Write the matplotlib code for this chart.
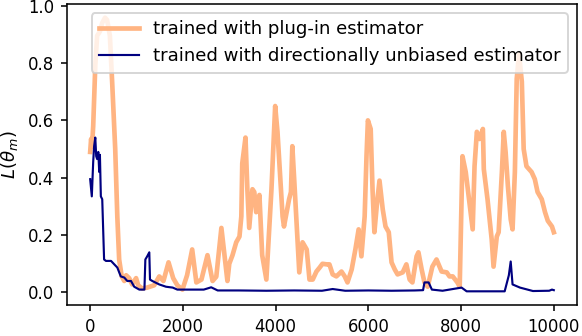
import numpy as np
import matplotlib
matplotlib.use('Agg')
import matplotlib.pyplot as plt

# loss curve, plug-in estimator
steps_plugin = [0, 20, 40, 65, 110, 150, 210, 260, 320, 365, 425, 475, 540, 585, 625,
                680, 735, 775, 840, 905, 990, 1035, 1120, 1230, 1380, 1490, 1580, 1690,
                1790, 1880, 1990, 2090, 2200, 2290, 2400, 2530, 2640, 2720, 2830, 2960,
                3000, 3070, 3150, 3220, 3260, 3280, 3350, 3390, 3430, 3500, 3540, 3580,
                3650, 3710, 3800, 3910, 3990, 4040, 4150, 4180, 4290, 4330, 4360, 4400,
                4470, 4510, 4580, 4670, 4730, 4800, 4880, 4950, 5010, 5100, 5160, 5230,
                5310, 5420, 5490, 5550, 5640, 5720, 5790, 5850, 5920, 5960, 5990, 6050,
                6090, 6130, 6180, 6240, 6310, 6370, 6440, 6500, 6570, 6630, 6740, 6820,
                6890, 6950, 7040, 7080, 7150, 7210, 7280, 7380, 7470, 7580, 7690, 7750,
                7820, 7920, 7970, 8030, 8100, 8190, 8250, 8290, 8340, 8400, 8470, 8490,
                8570, 8660, 8700, 8770, 8810, 8880, 8920, 8960, 9010, 9070, 9110, 9160,
                9200, 9250, 9310, 9350, 9410, 9520, 9590, 9650, 9740, 9810, 9870, 9960,
                10000]
loss_plugin = [0.49, 0.535, 0.51, 0.58, 0.79, 0.895, 0.91, 0.94, 0.958, 0.95, 0.895, 0.73,
               0.50, 0.265, 0.115, 0.056, 0.04, 0.06, 0.05, 0.028, 0.05, 0.025, 0.014,
               0.017, 0.025, 0.056, 0.04, 0.105, 0.05, 0.025, 0.01, 0.06, 0.15, 0.035,
               0.045, 0.13, 0.04, 0.055, 0.225, 0.04, 0.10, 0.13, 0.175, 0.195, 0.265,
               0.45, 0.54, 0.36, 0.225, 0.36, 0.35, 0.28, 0.34, 0.13, 0.045, 0.36, 0.65,
               0.56, 0.265, 0.23, 0.325, 0.35, 0.51, 0.395, 0.185, 0.07, 0.175, 0.15,
               0.045, 0.045, 0.073, 0.087, 0.10, 0.098, 0.098, 0.063, 0.056, 0.073, 0.056,
               0.035, 0.08, 0.15, 0.22, 0.126, 0.265, 0.475, 0.60, 0.57, 0.36, 0.21, 0.30,
               0.39, 0.29, 0.23, 0.21, 0.105, 0.08, 0.063, 0.07, 0.098, 0.045, 0.035,
               0.126, 0.14, 0.08, 0.035, 0.02, 0.09, 0.115, 0.073, 0.07, 0.056, 0.056,
               0.035, 0.02, 0.475, 0.42, 0.30, 0.22, 0.44, 0.56, 0.535, 0.57, 0.43, 0.325,
               0.185, 0.09, 0.195, 0.21, 0.42, 0.56, 0.49, 0.37, 0.255, 0.22, 0.42, 0.745,
               0.83, 0.735, 0.50, 0.44, 0.42, 0.395, 0.35, 0.325, 0.28, 0.25, 0.23, 0.21]

# loss curve, directionally unbiased estimator
steps_unbiased = [0, 35, 65, 85, 110, 130, 150, 175, 195, 210, 230, 260, 300, 340, 450,
                  520, 585, 660, 735, 800, 880, 950, 1060, 1170, 1190, 1230, 1275, 1290,
                  1340, 1490, 1635, 1780, 1880, 2140, 2450, 2610, 2750, 3200, 3800, 4400,
                  5000, 5230, 5500, 6000, 6500, 7000, 7180, 7210, 7300, 7370, 7600, 7860,
                  8010, 8120, 8500, 8940, 9030, 9070, 9110, 9270, 9550, 9900, 9960, 10000]
loss_unbiased = [0.395, 0.335, 0.455, 0.51, 0.54, 0.475, 0.465, 0.49, 0.42, 0.48, 0.335,
                 0.325, 0.115, 0.11, 0.11, 0.098, 0.087, 0.056, 0.052, 0.04, 0.04, 0.02,
                 0.01, 0.01, 0.115, 0.126, 0.14, 0.045, 0.04, 0.028, 0.02, 0.017, 0.01,
                 0.01, 0.01, 0.018, 0.007, 0.007, 0.006, 0.007, 0.006, 0.012, 0.006, 0.007,
                 0.006, 0.007, 0.008, 0.035, 0.035, 0.01, 0.006, 0.013, 0.017, 0.004,
                 0.004, 0.004, 0.06, 0.108, 0.028, 0.017, 0.005, 0.006, 0.01, 0.008]

fig = plt.figure(figsize=(582 / 140, 336 / 140), dpi=140)
ax = fig.add_axes([67 / 582, 1 - 305 / 336, 510 / 582, 301 / 336])

ax.plot(steps_plugin, loss_plugin, color='#ffb482', lw=2.4,
        label='trained with plug-in estimator')
ax.plot(steps_unbiased, loss_unbiased, color='navy', lw=1.1,
        label='trained with directionally unbiased estimator')

ax.set_ylabel(r'$L(\theta_m)$', fontsize=9.3)
ax.set_xticks([0, 2000, 4000, 6000, 8000, 10000])
ax.tick_params(labelsize=8.5, length=3)
ax.legend(loc='upper right', fontsize=9.3, handlelength=2.2)

fig.savefig('out.png', dpi=140)
